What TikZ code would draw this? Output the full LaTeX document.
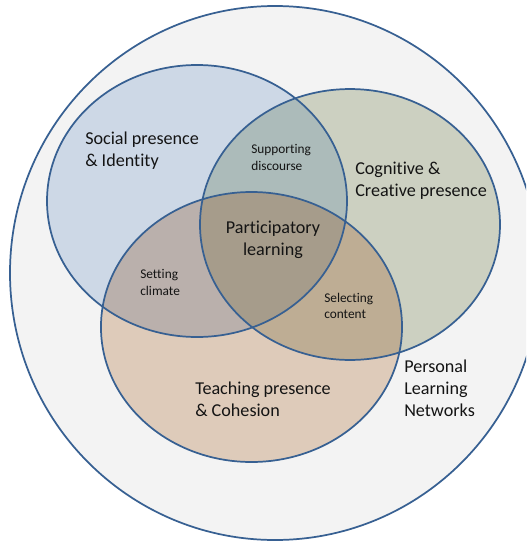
\documentclass[tikz,border=0pt]{standalone}
\usepackage{fontspec}
\setmainfont{Carlito}[Ligatures={NoCommon}]
\definecolor{outerbg}{RGB}{243,243,243}
\definecolor{cblue}{RGB}{205,216,230}
\definecolor{cgreen}{RGB}{204,208,193}
\definecolor{ctan}{RGB}{222,203,186}
\definecolor{cbg}{RGB}{172,187,186}
\definecolor{cbt}{RGB}{186,176,172}
\definecolor{cgt}{RGB}{190,173,148}
\definecolor{call}{RGB}{166,156,139}
\definecolor{lineblue}{RGB}{55,96,146}
\definecolor{txt}{RGB}{20,20,20}
\begin{document}
\begin{tikzpicture}[x=0.75pt,y=-0.75pt,
  ring/.style={draw=lineblue,line width=1.3pt},
  big/.style={font=\fontsize{13.6}{16.5}\selectfont,align=left,text=txt,inner sep=0pt,anchor=west},
  small/.style={font=\fontsize{10}{12.5}\selectfont,align=left,text=txt,inner sep=0pt,anchor=west}]
\useasboundingbox (0,0) rectangle (526,543);
\clip (0,0) rectangle (526,543);
\fill[white] (0,0) rectangle (526,543);
% outer circle: Personal Learning Networks
\path[fill=outerbg, ring] (275,273) ellipse [x radius=198.75pt, y radius=200.25pt];
% single fills
\fill[cblue] (197,201) ellipse [x radius=112.5pt, y radius=102pt];
\fill[cgreen] (350,224.5) ellipse [x radius=112.5pt, y radius=101.6pt];
\fill[ctan] (251.5,327) ellipse [x radius=112.9pt, y radius=101.25pt];
% pairwise overlaps
\begin{scope}
  \clip (197,201) ellipse [x radius=112.5pt, y radius=102pt];
  \fill[cbg] (350,224.5) ellipse [x radius=112.5pt, y radius=101.6pt];
  \fill[cbt] (251.5,327) ellipse [x radius=112.9pt, y radius=101.25pt];
\end{scope}
\begin{scope}
  \clip (350,224.5) ellipse [x radius=112.5pt, y radius=101.6pt];
  \fill[cgt] (251.5,327) ellipse [x radius=112.9pt, y radius=101.25pt];
\end{scope}
% triple overlap
\begin{scope}
  \clip (197,201) ellipse [x radius=112.5pt, y radius=102pt];
  \clip (350,224.5) ellipse [x radius=112.5pt, y radius=101.6pt];
  \fill[call] (251.5,327) ellipse [x radius=112.9pt, y radius=101.25pt];
\end{scope}
% outlines
\draw[ring] (197,201) ellipse [x radius=112.5pt, y radius=102pt];
\draw[ring] (350,224.5) ellipse [x radius=112.5pt, y radius=101.6pt];
\draw[ring] (251.5,327) ellipse [x radius=112.9pt, y radius=101.25pt];
% labels
\node[big] (social) at (85,150.5) {Social presence\\\& Identity};
\node[big] (cognitive) at (355,180.5) {Cognitive \&\\Creative presence};
\node[big] (teaching) at (195,399.5) {Teaching presence\\\& Cohesion};
\node[big] (pln) at (404,388) {Personal\\Learning\\Networks};
\node[big,anchor=center,align=center] (part) at (273,240) {Participatory\\learning};
\node[small] (support) at (251,157.5) {Supporting\\discourse};
\node[small] (climate) at (140,282.5) {Setting\\climate};
\node[small] (content) at (324,306) {Selecting\\content};
\end{tikzpicture}
\end{document}
